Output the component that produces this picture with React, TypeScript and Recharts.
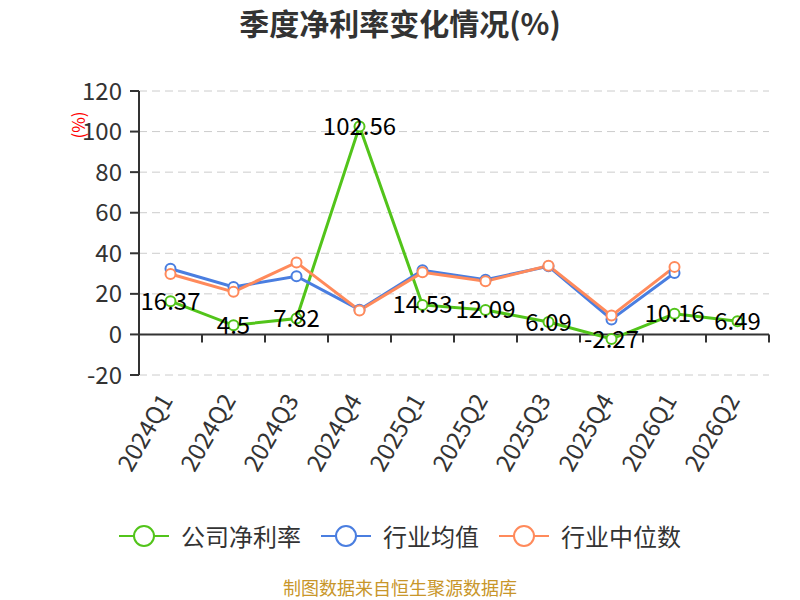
import { LineChart, Line, XAxis, YAxis, CartesianGrid, ReferenceLine, LabelList } from 'recharts';

const quarters = ['2024Q1', '2024Q2', '2024Q3', '2024Q4', '2025Q1', '2025Q2', '2025Q3', '2025Q4', '2026Q1', '2026Q2'];
const companyRate = [16.37, 4.5, 7.82, 102.56, 14.53, 12.09, 6.09, -2.27, 10.16, 6.49];
const industryAvg = [32.4, 23.4, 28.7, 12.2, 31.6, 27.0, 33.6, 7.4, 30.3, null];
const industryMedian = [29.8, 21.0, 35.5, 11.8, 30.6, 26.2, 33.9, 9.3, 33.3, null];
const yTicks = [-20, 0, 20, 40, 60, 80, 100, 120];

const GREEN = '#52c41a';
const BLUE = '#4a7ee0';
const ORANGE = '#ff8a5b';
const FONT = '"Noto Sans CJK SC", "Noto Sans", sans-serif';

const data = quarters.map((q, i) => ({
  idx: i,
  quarter: q,
  company: companyRate[i],
  avg: industryAvg[i],
  median: industryMedian[i],
}));

const boundaries = quarters.map((_, i) => i + 0.5);

function QuarterTick({ x, y, payload }: { x?: number; y?: number; payload?: { value: number } }) {
  const label = quarters[payload?.value ?? 0];
  const tx = (x ?? 0) - 6;
  return (
    <text
      x={tx}
      y={y}
      transform={`rotate(-60 ${tx} ${y})`}
      textAnchor="end"
      dominantBaseline="central"
      fontSize={24}
      fill="#333"
      fontFamily={FONT}
    >
      {label}
    </text>
  );
}

function LegendItem({ color, text }: { color: string; text: string }) {
  return (
    <div style={{ display: 'flex', alignItems: 'center', gap: '12px' }}>
      <svg width={50} height={24}>
        <line x1={0} y1={12} x2={50} y2={12} stroke={color} strokeWidth={2} />
        <circle cx={25} cy={12} r={10} fill="#fff" stroke={color} strokeWidth={2} />
      </svg>
      <span style={{ color: '#333', fontSize: '24px' }}>{text}</span>
    </div>
  );
}

export default function App() {
  return (
    <div style={{ position: 'absolute', left: 0, top: 0, width: 800, height: 600, background: '#fff', fontFamily: FONT }}>
      <div
        style={{
          position: 'absolute',
          top: 0,
          width: 800,
          textAlign: 'center',
          fontSize: '30px',
          fontWeight: 700,
          color: '#333',
        }}
      >
        季度净利率变化情况(%)
      </div>
      <div
        style={{
          position: 'absolute',
          left: 77,
          top: 125,
          transform: 'translate(-50%, -50%) rotate(-90deg)',
          color: '#ff0000',
          fontSize: '17px',
          whiteSpace: 'nowrap',
        }}
      >
        (%)
      </div>
      <LineChart width={800} height={600} data={data} margin={{ top: 91, right: 31, left: 79, bottom: 25 }}>
        <CartesianGrid horizontal vertical={false} stroke="#ccc" strokeDasharray="8 5" />
        <XAxis
          dataKey="idx"
          type="number"
          domain={[-0.5, 9.5]}
          ticks={data.map((d) => d.idx)}
          axisLine={false}
          tickLine={false}
          tick={<QuarterTick />}
          tickMargin={14}
          height={200}
          interval={0}
        />
        <YAxis
          domain={[-20, 120]}
          ticks={yTicks}
          width={60}
          interval={0}
          axisLine={{ stroke: '#333', strokeWidth: 2 }}
          tickLine={{ stroke: '#333', strokeWidth: 2 }}
          tickSize={9}
          tickMargin={8}
          tick={{ fontSize: 24, fill: '#333', fontFamily: FONT }}
        />
        <ReferenceLine y={0} stroke="#333" strokeWidth={2} />
        {boundaries.map((b) => (
          <ReferenceLine
            key={b}
            segment={[
              { x: b, y: 0 },
              { x: b, y: -4 },
            ]}
            stroke="#333"
            strokeWidth={2}
          />
        ))}
        <Line
          dataKey="company"
          stroke={GREEN}
          strokeWidth={3}
          dot={{ r: 5, fill: '#fff', stroke: GREEN, strokeWidth: 2 }}
          isAnimationActive={false}
        >
          <LabelList dataKey="company" position="center" fontSize={24} fill="#000" fontFamily={FONT} />
        </Line>
        <Line
          dataKey="avg"
          stroke={BLUE}
          strokeWidth={3}
          dot={{ r: 5, fill: '#fff', stroke: BLUE, strokeWidth: 2 }}
          connectNulls={false}
          isAnimationActive={false}
        />
        <Line
          dataKey="median"
          stroke={ORANGE}
          strokeWidth={3}
          dot={{ r: 5, fill: '#fff', stroke: ORANGE, strokeWidth: 2 }}
          connectNulls={false}
          isAnimationActive={false}
        />
      </LineChart>
      <div
        style={{
          position: 'absolute',
          top: 518,
          width: 800,
          display: 'flex',
          justifyContent: 'center',
          gap: '20px',
        }}
      >
        <LegendItem color={GREEN} text="公司净利率" />
        <LegendItem color={BLUE} text="行业均值" />
        <LegendItem color={ORANGE} text="行业中位数" />
      </div>
      <div
        style={{
          position: 'absolute',
          top: 577,
          width: 800,
          textAlign: 'center',
          fontSize: '18px',
          lineHeight: '20px',
          color: '#c8962a',
        }}
      >
        制图数据来自恒生聚源数据库
      </div>
    </div>
  );
}
